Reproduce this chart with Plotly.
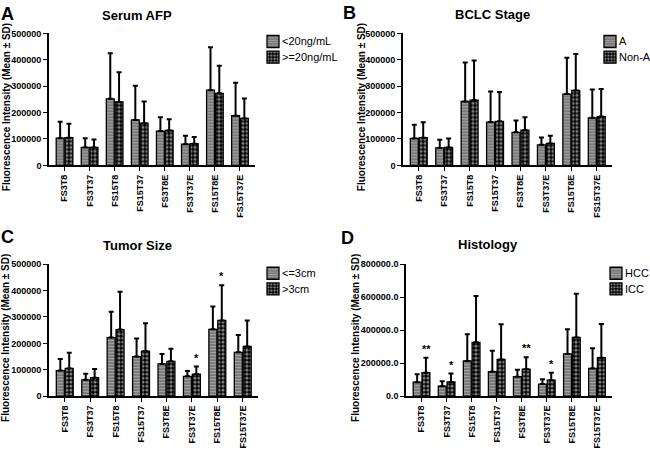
import plotly.graph_objects as go

categories = ["FS3T8", "FS3T37", "FS15T8", "FS15T37", "FS3T8E", "FS3T37E", "FS15T8E", "FS15T37E"]

# Panel A: Serum AFP
a_names = ["<20ng/mL", ">=20ng/mL"]
a_mean1 = [103000, 68000, 252000, 172000, 130000, 80000, 285000, 188000]
a_top1 = [165000, 103000, 425000, 302000, 182000, 112000, 447000, 313000]
a_mean2 = [105000, 68000, 240000, 160000, 132000, 82000, 273000, 178000]
a_top2 = [158000, 98000, 353000, 242000, 175000, 107000, 377000, 253000]

# Panel B: BCLC Stage
b_names = ["A", "Non-A"]
b_mean1 = [102000, 66000, 242000, 164000, 125000, 78000, 270000, 180000]
b_top1 = [154000, 97000, 390000, 280000, 170000, 106000, 408000, 287000]
b_mean2 = [105000, 68000, 247000, 167000, 133000, 83000, 284000, 185000]
b_top2 = [163000, 102000, 397000, 278000, 182000, 112000, 422000, 289000]

# Panel C: Tumor Size
c_names = ["<=3cm", ">3cm"]
c_mean1 = [97000, 62000, 222000, 150000, 122000, 75000, 253000, 166000]
c_top1 = [141000, 85000, 320000, 218000, 160000, 95000, 340000, 232000]
c_mean2 = [105000, 70000, 252000, 170000, 132000, 83000, 287000, 188000]
c_top2 = [164000, 103000, 395000, 276000, 180000, 112000, 420000, 287000]
c_stars = ["", "", "", "", "", "*", "*", ""]

# Panel D: Histology
d_names = ["HCC", "ICC"]
d_mean1 = [85000, 60000, 213000, 148000, 118000, 73000, 256000, 168000]
d_top1 = [133000, 90000, 375000, 275000, 160000, 102000, 405000, 290000]
d_mean2 = [142000, 86000, 326000, 222000, 163000, 97000, 356000, 233000]
d_top2 = [233000, 137000, 607000, 436000, 236000, 142000, 621000, 437000]
d_stars = ["**", "*", "", "", "**", "*", "", ""]

W, H = 650, 452
FONT = "Liberation Sans, Arial, sans-serif"

panels = [
    dict(letter="A", title="Serum AFP", names=a_names, m1=a_mean1, t1=a_top1, m2=a_mean2, t2=a_top2,
         stars=None, xd=(49, 255), yd=(29, 164), ymax=500000, dtick=100000, fmt="d",
         title_xy=(137, 11), letter_xy=(7, 9), ytitle_x=6, legend_xy=(267, 37)),
    dict(letter="B", title="BCLC Stage", names=b_names, m1=b_mean1, t1=b_top1, m2=b_mean2, t2=b_top2,
         stars=None, xd=(403, 612), yd=(29, 164), ymax=500000, dtick=100000, fmt="d",
         title_xy=(492, 10), letter_xy=(349, 8), ytitle_x=361, legend_xy=(604, 37)),
    dict(letter="C", title="Tumor Size", names=c_names, m1=c_mean1, t1=c_top1, m2=c_mean2, t2=c_top2,
         stars=c_stars, xd=(49, 258), yd=(265, 400), ymax=500000, dtick=100000, fmt="d",
         title_xy=(137, 246), letter_xy=(7, 237), ytitle_x=6, legend_xy=(267, 274)),
    dict(letter="D", title="Histology", names=d_names, m1=d_mean1, t1=d_top1, m2=d_mean2, t2=d_top2,
         stars=d_stars, xd=(406, 612), yd=(265, 400), ymax=800000, dtick=200000, fmt=".1f",
         title_xy=(488, 245), letter_xy=(347, 238), ytitle_x=356, legend_xy=(610, 274)),
]

fig = go.Figure()
annotations = []
layout = {}
legend_no = 0

for i, p in enumerate(panels):
    n = i + 1
    xa = "x" if n == 1 else f"x{n}"
    ya = "y" if n == 1 else f"y{n}"
    lx, ly = p["legend_xy"]
    styles = [
        dict(color="#8a8a8a", line=dict(color="black", width=1.3),
             pattern=dict(shape="-", fgcolor="#d0d0d0", bgcolor="#7a7a7a", size=3, solidity=0.35)),
        dict(color="black", line=dict(color="black", width=1.3),
             pattern=dict(shape=".", fgcolor="white", bgcolor="black", size=4, solidity=0.5)),
    ]
    series = [(p["m1"], p["t1"]), (p["m2"], p["t2"])]
    for k, ((means, tops), nm, st) in enumerate(zip(series, p["names"], styles)):
        legend_no += 1
        lg = "legend" if legend_no == 1 else f"legend{legend_no}"
        err = [t - m for t, m in zip(tops, means)]
        fig.add_trace(go.Bar(
            x=categories, y=means, name="", xaxis=xa, yaxis=ya, legend=lg, showlegend=True,
            hovertemplate=nm + ": %{y}<extra></extra>",
            marker=st,
            error_y=dict(type="data", array=err, arrayminus=[0]*8, symmetric=False,
                         color="black", thickness=2, width=2.5),
        ))
        # one swatch per legend so its position is exact; its label is an annotation beside it
        cy = ly + 16 * k
        layout[lg] = dict(x=(lx - 14) / W, y=1 - (cy - 14.5) / H, xanchor="left", yanchor="top",
                          bgcolor="rgba(0,0,0,0)", font=dict(family=FONT, size=8, color="black"),
                          itemwidth=30, borderwidth=0)
        annotations.append(dict(text=nm, x=(lx + 13) / W, y=1 - cy / H, xref="paper", yref="paper",
                                xanchor="left", yanchor="middle", showarrow=False,
                                font=dict(family=FONT, size=11, color="black")))
    xdom = [p["xd"][0] / W, p["xd"][1] / W]
    ydom = [1 - p["yd"][1] / H, 1 - p["yd"][0] / H]
    layout["xaxis" if n == 1 else f"xaxis{n}"] = dict(
        domain=xdom, anchor=ya, range=[-0.62, 7.6], type="category",
        showline=True, linecolor="black", linewidth=1.6, ticks="outside", ticklen=4,
        tickcolor="black", tickwidth=1.3, tickangle=-90, showgrid=False,
        tickfont=dict(family=FONT, size=9, color="black", weight="bold"))
    layout["yaxis" if n == 1 else f"yaxis{n}"] = dict(
        domain=ydom, anchor=xa, range=[0, p["ymax"]], dtick=p["dtick"], tickformat=p["fmt"],
        showline=True, linecolor="black", linewidth=1.6, ticks="outside", ticklen=4,
        tickcolor="black", tickwidth=1.3, showgrid=False, zeroline=False,
        tickfont=dict(family=FONT, size=9, color="black", weight="bold"))
    annotations.append(dict(text=f"<b>{p['title']}</b>", x=p["title_xy"][0] / W, y=1 - p["title_xy"][1] / H,
                            xref="paper", yref="paper", showarrow=False, xanchor="center", yanchor="middle",
                            font=dict(family=FONT, size=13, color="black")))
    annotations.append(dict(text=f"<b>{p['letter']}</b>", x=p["letter_xy"][0] / W, y=1 - p["letter_xy"][1] / H,
                            xref="paper", yref="paper", showarrow=False, xanchor="center", yanchor="middle",
                            font=dict(family=FONT, size=18, color="black")))
    ymid = (p["yd"][0] + p["yd"][1]) / 2 + 8
    annotations.append(dict(text="<b>Fluorescence Intensity (Mean ± SD)</b>", x=p["ytitle_x"] / W,
                            y=1 - ymid / H, xref="paper", yref="paper", showarrow=False, textangle=-90,
                            xanchor="center", yanchor="middle",
                            font=dict(family=FONT, size=10, color="black")))
    if p["stars"]:
        for cat, s, t in zip(categories, p["stars"], p["t2"]):
            if s:
                annotations.append(dict(text=f"<b>{s}</b>", x=cat, y=t, xref=xa, yref=ya, xshift=4.5,
                                        yanchor="bottom", yshift=1, showarrow=False,
                                        font=dict(family=FONT, size=11, color="black")))

fig.update_layout(
    width=W, height=H, margin=dict(l=0, r=0, t=0, b=0),
    paper_bgcolor="white", plot_bgcolor="white", showlegend=True,
    barmode="group", bargap=0.3, bargroupgap=0.1,
    annotations=annotations, **layout,
)

fig.write_html("out.html", config={"displayModeBar": False},
               post_script="document.body.style.margin='0';")
